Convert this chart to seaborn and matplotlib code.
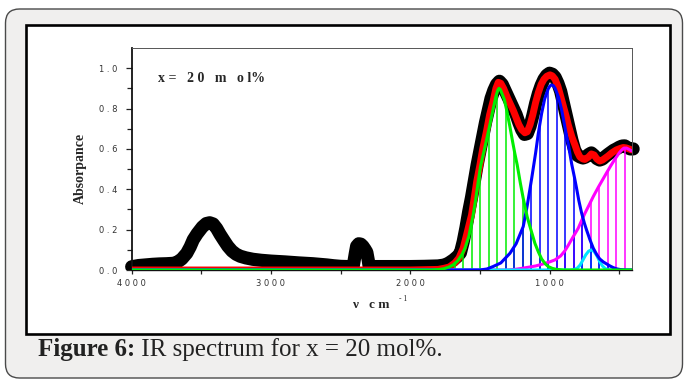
import matplotlib
matplotlib.use("Agg")
import matplotlib.pyplot as plt
import seaborn as sns
import numpy as np
import pandas as pd
from matplotlib.patches import FancyBboxPatch, Rectangle
from matplotlib.transforms import IdentityTransform

# ---------------- data ----------------
x_ticks = [4000, 3000, 2000, 1000]
x_tick_labels = ["4 0 0 0", "3 0 0 0", "2 0 0 0", "1 0 0 0"]
x_minor = [3500, 2500, 1500, 500]
y_ticks = [0.0, 0.2, 0.4, 0.6, 0.8, 1.0]
y_tick_labels = ["0 . 0", "0 . 2", "0 . 4", "0 . 6", "0 . 8", "1 . 0"]
y_minor = [0.1, 0.3, 0.5, 0.7, 0.9]

# observed spectrum (thick black)
obs_wn = [4000, 3950, 3900, 3850, 3800, 3750, 3700, 3670, 3640, 3605, 3580, 3558, 3530,
          3493, 3465, 3440, 3415, 3390, 3365, 3337, 3310, 3280, 3250, 3220, 3180, 3130,
          3070, 3000, 2900, 2800, 2700, 2650, 2600, 2550, 2500, 2450, 2410, 2395, 2385,
          2370, 2355, 2340, 2325, 2312, 2302, 2295, 2200, 2100, 2000, 1900, 1800, 1750,
          1720, 1690, 1660, 1640, 1620, 1600, 1580, 1560, 1540, 1520, 1500, 1480, 1460,
          1440, 1420, 1400, 1380, 1360, 1340, 1320, 1300, 1280, 1260, 1240, 1220, 1200,
          1180, 1160, 1140, 1120, 1100, 1080, 1060, 1040, 1020, 1000, 980, 960, 940, 920,
          900, 880, 860, 840, 820, 800, 780, 760, 740, 720, 700, 680, 660, 640, 620, 600,
          580, 560, 540, 520, 500, 480, 460, 440, 420, 400]
obs_abs = [0.016, 0.022, 0.025, 0.028, 0.030, 0.031, 0.033, 0.040, 0.055, 0.083, 0.115, 0.150, 0.180,
           0.213, 0.230, 0.234, 0.228, 0.206, 0.176, 0.146, 0.118, 0.094, 0.078, 0.068, 0.060, 0.053,
           0.048, 0.044, 0.040, 0.035, 0.031, 0.028, 0.025, 0.021, 0.018, 0.017, 0.017, 0.080, 0.118,
           0.130, 0.128, 0.118, 0.103, 0.088, 0.050, 0.017, 0.017, 0.017, 0.017, 0.018, 0.020, 0.025,
           0.036, 0.050, 0.068, 0.085, 0.140, 0.210, 0.290, 0.360, 0.440, 0.520, 0.590, 0.660, 0.730,
           0.790, 0.850, 0.890, 0.920, 0.935, 0.920, 0.890, 0.860, 0.830, 0.800, 0.770, 0.730, 0.695,
           0.672, 0.676, 0.712, 0.765, 0.825, 0.875, 0.915, 0.945, 0.965, 0.975, 0.970, 0.955, 0.925, 0.885,
           0.825, 0.765, 0.705, 0.645, 0.595, 0.568, 0.560, 0.555, 0.560, 0.572, 0.580, 0.568, 0.552,
           0.545, 0.550, 0.562, 0.573, 0.583, 0.593, 0.600, 0.608, 0.614, 0.615, 0.606, 0.600, 0.600]

# total fit (red)
fit_wn = [4000, 3000, 2000, 1800, 1760, 1720, 1680, 1650, 1620, 1590, 1560, 1540, 1523, 1500,
          1480, 1452, 1430, 1404, 1385, 1368, 1350, 1330, 1300, 1280, 1260, 1240, 1220, 1200,
          1177, 1160, 1140, 1120, 1100, 1080, 1060, 1040, 1020, 997, 980, 960, 940, 926, 900,
          880, 866, 840, 818, 800, 782, 760, 746, 720, 700, 680, 660, 640, 620, 600, 580, 554,
          520, 490, 471, 450, 430, 411]
fit_abs = [0.0, 0.0, 0.0, 0.003, 0.008, 0.015, 0.035, 0.060, 0.108, 0.190, 0.273, 0.360, 0.438, 0.520,
           0.600, 0.690, 0.770, 0.840, 0.900, 0.930, 0.925, 0.900, 0.850, 0.820, 0.790, 0.755, 0.720, 0.695,
           0.680, 0.685, 0.720, 0.770, 0.830, 0.880, 0.920, 0.945, 0.960, 0.967, 0.962, 0.945, 0.910, 0.876, 0.810,
           0.760, 0.720, 0.660, 0.620, 0.585, 0.560, 0.550, 0.548, 0.560, 0.575, 0.570, 0.550, 0.540, 0.545, 0.555,
           0.565, 0.580, 0.595, 0.603, 0.607, 0.605, 0.600, 0.595]

# fitted components
green_wn = [4000, 1850, 1800, 1760, 1720, 1693, 1660, 1630, 1607, 1580, 1548, 1530, 1512, 1495,
            1470, 1452, 1430, 1404, 1385, 1372, 1363, 1354, 1345, 1325, 1308, 1285, 1265, 1250, 1232,
            1210, 1189, 1160, 1129, 1105, 1081, 1057, 1030, 1009, 980, 950, 900, 400]
green_abs = [0.0, 0.0, 0.002, 0.006, 0.015, 0.025, 0.045, 0.075, 0.108, 0.165, 0.273, 0.350, 0.438, 0.515,
             0.590, 0.645, 0.715, 0.800, 0.860, 0.890, 0.900, 0.895, 0.880, 0.845, 0.793, 0.712, 0.635, 0.580,
             0.520, 0.432, 0.355, 0.262, 0.188, 0.132, 0.091, 0.055, 0.030, 0.017, 0.008, 0.003, 0.0, 0.0]

blue_wn = [4000, 1500, 1450, 1406, 1350, 1284, 1240, 1189, 1160, 1128, 1100, 1081, 1057, 1035,
           1010, 997, 985, 972, 960, 935, 913, 897, 880, 866, 841, 820, 806, 790, 770, 750, 734,
           710, 686, 660, 640, 614, 590, 566, 543, 520, 490, 450, 400]
blue_abs = [0.0, 0.0, 0.005, 0.017, 0.035, 0.083, 0.130, 0.215, 0.320, 0.455, 0.580, 0.675, 0.775, 0.848,
            0.897, 0.912, 0.917, 0.913, 0.900, 0.855, 0.793, 0.735, 0.672, 0.625, 0.525, 0.455, 0.405, 0.345,
            0.283, 0.232, 0.198, 0.150, 0.108, 0.075, 0.055, 0.040, 0.030, 0.020, 0.012, 0.006, 0.002, 0.0, 0.0]

cyan_wn = [4000, 850, 820, 800, 780, 760, 740, 720, 700, 680, 660, 640, 620, 600, 580, 560, 400]
cyan_abs = [0.0, 0.0, 0.003, 0.010, 0.025, 0.050, 0.075, 0.093, 0.100, 0.092, 0.070, 0.042, 0.020,
            0.007, 0.002, 0.0, 0.0]

magenta_wn = [4000, 1300, 1250, 1200, 1150, 1100, 1057, 1000, 961, 920, 890, 866, 830, 794, 770,
              746, 716, 686, 650, 620, 590, 560, 530, 500, 480, 466, 447, 430, 411]
magenta_abs = [0.0, 0.0, 0.003, 0.008, 0.014, 0.020, 0.028, 0.040, 0.050, 0.070, 0.095, 0.122, 0.165,
               0.207, 0.245, 0.281, 0.322, 0.364, 0.410, 0.446, 0.482, 0.517, 0.550, 0.580, 0.596, 0.604,
               0.604, 0.598, 0.590]

# drop lines (stems) of each component
green_stem_wn = [1680, 1619, 1558, 1497, 1436, 1375, 1314, 1253, 1192, 1131, 1070, 1009]
green_stem_abs = [0.03, 0.095, 0.25, 0.51, 0.69, 0.88, 0.81, 0.585, 0.36, 0.19, 0.075, 0.017]
blue_stem_wn = [1314, 1253, 1192, 1131, 1070, 1009, 948, 887, 826, 765, 704, 643, 582, 521]
blue_stem_abs = [0.06, 0.115, 0.21, 0.44, 0.72, 0.90, 0.88, 0.69, 0.47, 0.27, 0.14, 0.058, 0.027, 0.006]
cyan_stem_wn = [765, 704, 643]
cyan_stem_abs = [0.045, 0.099, 0.045]
magenta_stem_wn = [1070, 1009, 948, 887, 826, 765, 704, 643, 582, 521, 460]
magenta_stem_abs = [0.026, 0.038, 0.058, 0.098, 0.17, 0.255, 0.34, 0.415, 0.49, 0.56, 0.605]

# ---------------- figure ----------------
sns.set_style("white")
plt.rcParams['font.family'] = ['DejaVu Sans']

W, H = 684, 379
fig = plt.figure(figsize=(W / 100, H / 100), dpi=100)
fig.patch.set_facecolor("white")

outer = FancyBboxPatch((5.5, 1.0), 677.0, 369.0, boxstyle="round,pad=0,rounding_size=14",
                       transform=IdentityTransform(), facecolor="#f0efee",
                       edgecolor="#4a4a4a", linewidth=1.0, zorder=-3)
fig.add_artist(outer)
panel = Rectangle((25.5, 45.0), 644.0, 309.0, transform=IdentityTransform(),
                  facecolor="white", edgecolor="black", linewidth=1.9, zorder=-2)
fig.add_artist(panel)

ax = fig.add_axes([131.7 / W, 1 - 270 / H, (632 - 131.7) / W, (270 - 48) / H])
ax.set_facecolor("white")

clip_rect = Rectangle((-0.03, 0.0), 1.06, 1.0, transform=ax.transAxes)

obs = pd.DataFrame({"wn": obs_wn, "abs": obs_abs})
sns.lineplot(data=obs, x="wn", y="abs", ax=ax, color="black", linewidth=9.5, sort=False,
             estimator=None, legend=False, zorder=2, solid_capstyle="round",
             solid_joinstyle="round")
ax.lines[-1].set_clip_path(clip_rect)

fit = pd.DataFrame({"wn": fit_wn, "abs": fit_abs})
sns.lineplot(data=fit, x="wn", y="abs", ax=ax, color="#ff0000", linewidth=5.0, sort=False,
             estimator=None, legend=False, zorder=3, solid_capstyle="round",
             solid_joinstyle="round")

stem_sets = [
    (magenta_stem_wn, magenta_stem_abs, "#ff00ff"),
    (cyan_stem_wn, cyan_stem_abs, "#00ffff"),
    (green_stem_wn, green_stem_abs, "#00ee00"),
    (blue_stem_wn, blue_stem_abs, "#0000ff"),
]
for k, (sw, sa, col) in enumerate(stem_sets):
    ax.vlines(sw, 0, sa, colors=col, linewidth=1.1, zorder=4 + k * 0.01)

comps = [
    (magenta_wn, magenta_abs, "#ff00ff", 5.0),
    (cyan_wn, cyan_abs, "#00e5ff", 5.1),
    (blue_wn, blue_abs, "#0000ff", 5.2),
    (green_wn, green_abs, "#00ee00", 5.3),
]
for cw, ca, col, z in comps:
    d = pd.DataFrame({"wn": cw, "abs": ca})
    sns.lineplot(data=d, x="wn", y="abs", ax=ax, color=col, linewidth=2.2, sort=False,
                 estimator=None, legend=False, zorder=z, solid_joinstyle="round")

ax.set_xlim(4000, 408)
ax.set_ylim(0, 1.1)

ax.set_xticks(x_ticks, labels=x_tick_labels)
ax.set_xticks(x_minor, minor=True)
ax.set_yticks(y_ticks, labels=y_tick_labels)
ax.set_yticks(y_minor, minor=True)
ax.tick_params(axis="y", which="major", direction="out", length=4.5, width=0.9,
               color="#222222", labelsize=6, labelcolor="#333333", pad=5.5, left=True)
ax.tick_params(axis="y", which="minor", direction="out", length=3.5, width=0.9,
               color="#222222", left=True)
ax.tick_params(axis="x", which="major", direction="out", length=3, width=0.9,
               color="#222222", labelsize=6, labelcolor="#333333", pad=3.5, bottom=True)
ax.tick_params(axis="x", which="minor", direction="out", length=3, width=0.9,
               color="#222222", bottom=True)
ax.set_xlabel("")
ax.set_ylabel("")

for s in ["top", "right"]:
    ax.spines[s].set_color("#555555")
    ax.spines[s].set_linewidth(0.7)
ax.spines["left"].set_color("#111111")
ax.spines["left"].set_linewidth(1.3)
ax.spines["bottom"].set_color("#111111")
ax.spines["bottom"].set_linewidth(1.0)

serif = ["Liberation Serif", "DejaVu Serif"]

ax.text(3812, 0.947, "x =   2 0   m   o l%", family=serif, fontweight="bold", fontsize=10,
        ha="left", va="center")

fig.text(80.5, H - 168, "Absorpance", family=serif, fontweight="bold", fontsize=10,
         rotation=90, ha="center", va="center", transform=IdentityTransform())
fig.text(353, H - 305, "\u03bd   c m", family=serif, fontweight="bold", fontsize=9.5,
         ha="left", va="center", transform=IdentityTransform())
fig.text(399, H - 299, "- 1", family=serif, fontsize=5.5, ha="left", va="center",
         transform=IdentityTransform())

# caption
cap1 = fig.text(38, H - 356, "Figure 6:", family=serif, fontweight="bold", fontsize=18,
                ha="left", va="baseline", color="#222222", transform=IdentityTransform())
fig.canvas.draw()
bb = cap1.get_window_extent(renderer=fig.canvas.get_renderer())
fig.text(bb.x1, H - 356, " IR spectrum for x = 20 mol%.", family=serif, fontsize=18,
         ha="left", va="baseline", color="#222222", transform=IdentityTransform())

fig.savefig("out.png", dpi=100, facecolor=fig.get_facecolor())
